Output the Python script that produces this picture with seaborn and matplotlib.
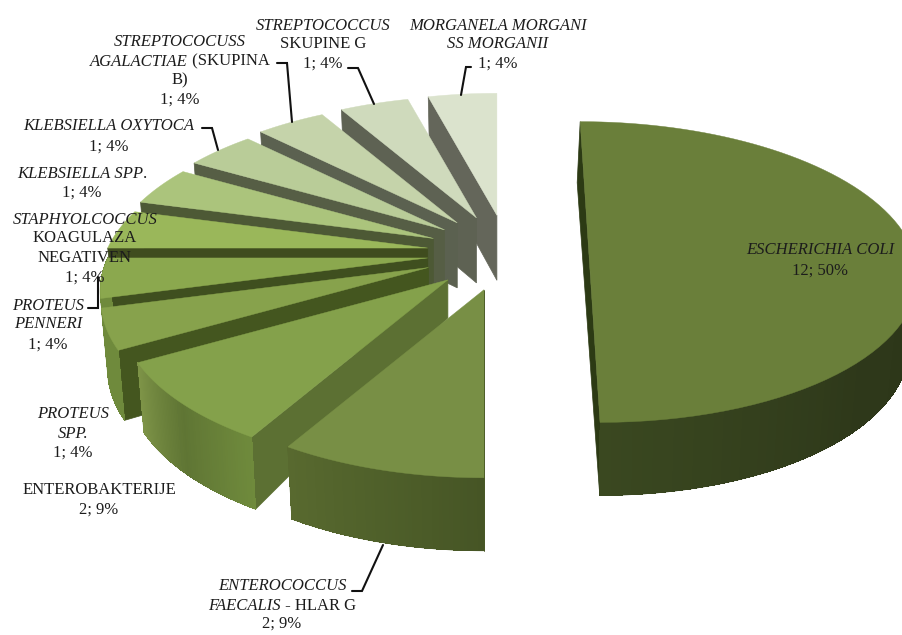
import numpy as np
import matplotlib
matplotlib.use("Agg")
import matplotlib.pyplot as plt
import seaborn as sns

# --- data -------------------------------------------------------------
categories = ["ESCHERICHIA COLI", "ENTEROCOCCUS FAECALIS - HLAR G", "ENTEROBAKTERIJE",
              "PROTEUS SPP.", "PROTEUS PENNERI", "STAPHYLOCOCCUS KOAGULAZA NEGATIVEN",
              "KLEBSIELLA SPP.", "KLEBSIELLA OXYTOCA", "STREPTOCOCUSS AGALACTIAE",
              "STREPTOCOCCUS SKUPINE G", "MORGANELA MORGANII SS MORGANII"]
values = [12, 2, 2, 1, 1, 1, 1, 1, 1, 1, 1]
percents = ["50%", "9%", "9%", "4%", "4%", "4%", "4%", "4%", "4%", "4%", "4%"]

# --- styles -----------------------------------------------------------
top_colors = ["#6a7f3a", "#788f45", "#84a14b", "#87a24c", "#8ba84e", "#9ab75a",
              "#abc47c", "#b9cc98", "#c5d3aa", "#cfdabc", "#dbe3cd"]
edge_colors = ["#2c3a14", "#455424", "#5c7033", "#44561f", "#3f4f1f", "#3f4c1e",
               "#4d5935", "#565e45", "#5b6150", "#5e6253", "#64665a"]
rim_colors = [("#2c3618", "#2e381a", "#3a4820"), ("#58692f", "#4f602a", "#465525"),
              ("#6f8a3c", "#5f7534", "#7d9347"),
              ("#6f8a3c", "#6f8a3c"), ("#6f8a3c", "#6f8a3c"), ("#666", "#666"),
              ("#666", "#666"), ("#666", "#666"), ("#666", "#666"), ("#666", "#666"), ("#666", "#666")]
rim_flip = [False, True, False, False, False, False, False, False, False, False, False]
explode = [0.894, 1, 1, 1, 1, 1, 1, 1, 1, 1, 1]
shift_x = [0, -6, -4, -5, 0, 0, 0, 0, -3, -3, -4]
shift_y = [-13, 0, 0, 0, 0, 0, 0, 0, 0, 0, 0]
scale_y = [0.97, 1, 1, 1, 1, 1, 1, 1, 1, 1, 1]
tilt = [0.066, 0, 0, 0, 0, 0, 0, 0, 0, 0, 0]
tip_depth = [65, 65, 38, 65, 65, 65, 65, 65, 65, 65, 65]
base_scale = [0.975, 0.98, 0.98, 0.98, 0.98, 0.98, 0.98, 0.98, 0.98, 0.98, 0.98]

CX, CY, EX, EY = 512, 253, 85, 38         # pie centre and explosion, in pixels
A, B, K = 320, 148, 0.213                 # perspective of the pie plane

sns.set_theme(style="white")
plt.rcParams["font.family"] = ["Liberation Serif", "DejaVu Serif"]

fig = plt.figure(figsize=(9.03, 6.35), dpi=100)
ax = fig.add_axes([0, 0, 1, 1])
ax.set_xlim(0, 903)
ax.set_ylim(635, 0)
ax.axis("off")


def project(theta, t, tip, yscale, skew):
    u, v = np.sin(theta) * t, np.cos(theta) * t
    w = 1 + K * v
    dy = -B * v / w * yscale
    dx = A * u / w + skew * dy
    return tip[0] + dx, tip[1] + dy


def depth(theta, t, tip_d):
    return tip_d + (67 - 6 * np.cos(theta) - tip_d) * t


def lower(x, y, theta, t, tip, tip_d, s):
    return tip[0] + (x - tip[0]) * s, y + depth(theta, t, tip_d)


angles = np.cumsum([0] + values) / sum(values) * 2 * np.pi
draw_order = [0] + list(range(len(values) - 1, 0, -1))
for i in draw_order:
    a0, a1 = angles[i], angles[i + 1]
    am = (a0 + a1) / 2
    tip = (CX + EX * explode[i] * np.sin(am) + shift_x[i],
           CY - EY * explode[i] * np.cos(am) + shift_y[i])
    args = (tip, scale_y[i], tilt[i])
    d = tip_depth[i]
    s = base_scale[i]

    # wall along the first radial edge
    rx, ry = project(a0, 1, *args)
    bx, by = lower(rx, ry, a0, 1, tip, d, s)
    if i == 0:   # the 50% slice shows the wall of its diameter
        rx2, ry2 = project(a1, 1, *args)
        bx2, by2 = lower(rx2, ry2, a1, 1, tip, d, s)
        ax.fill([rx, rx2, bx2, rx - 3], [ry, ry2, by2, by], color=edge_colors[i], lw=0.5)
    else:
        ax.fill([tip[0], rx, bx, tip[0]], [tip[1], ry, by, tip[1] + d], color=edge_colors[i], lw=0.5)

    # outer wall, only where the rim faces the viewer
    lo, hi = max(a0, np.pi / 2), min(a1, 1.5 * np.pi)
    if hi > lo:
        th = np.linspace(lo, hi, 61)
        stops = list(rim_colors[i])
        cols = sns.blend_palette(stops[::-1] if rim_flip[i] else stops, len(th) - 1)
        xt, yt = project(th, 1, *args)
        xb, yb = lower(xt, yt, th, 1, tip, d, s)
        ax.fill(np.r_[xt, xb[::-1]], np.r_[yt, yb[::-1]], color=cols[len(cols) // 2], lw=0.5)
        for j in range(len(th) - 1):
            ax.fill([xt[j], xt[j + 1], xb[j + 1], xb[j]], [yt[j], yt[j + 1], yb[j + 1], yb[j]],
                    color=cols[j], lw=0, antialiased=False)

    # top face
    th = np.linspace(a0, a1, 80)
    xr, yr = project(th, 1, *args)
    ax.fill(np.r_[tip[0], xr], np.r_[tip[1], yr], color=top_colors[i], lw=0.3)

# --- leader lines -----------------------------------------------------
leaders = [([471, 466, 461], [67, 67, 95]),
           ([348, 358, 374], [68, 68, 104]),
           ([277, 287, 292], [63, 63, 122]),
           ([202, 212, 218], [128, 128, 150]),
           ([98, 98, 88], [277, 308, 308]),
           ([383, 362, 352], [545, 591, 591])]
for lx, ly in leaders:
    ax.plot(lx, ly, color="#111111", lw=1.5, solid_joinstyle="miter", zorder=5)

# --- labels -----------------------------------------------------------
I, R = "italic", "normal"
labels = [
    (820, [249, 269], [[("ESCHERICHIA COLI", I)], [("12; 50%", R)]]),
    (282, [585, 604, 622], [[("ENTEROCOCCUS", I)], [("FAECALIS", I), (" - HLAR G", R)], [("2; 9%", R)]]),
    (99, [488, 508], [[("ENTEROBAKTERIJE", R)], [("2; 9%", R)]]),
    (73, [412, 432, 451], [[("PROTEUS", I)], [("SPP.", I)], [("1; 4%", R)]]),
    (48, [304, 323, 343], [[("PROTEUS", I)], [("PENNERI", I)], [("1; 4%", R)]]),
    (85, [218, 237, 256, 276], [[("STAPHYOLCOCCUS", I)], [("KOAGULAZA", R)], [("NEGATIVEN", R)], [("1; 4%", R)]]),
    (82, [172, 191], [[("KLEBSIELLA SPP", I), (".", R)], [("1; 4%", R)]]),
    (109, [125, 145], [[("KLEBSIELLA OXYTOCA", I)], [("1; 4%", R)]]),
    (180, [40, 60, 79, 98], [[("STREPTOCOCUSS", I)], [("AGALACTIAE", I), (" (SKUPINA", R)], [("B)", R)], [("1; 4%", R)]]),
    (323, [24, 43, 62], [[("STREPTOCOCCUS", I)], [("SKUPINE G", R)], [("1; 4%", R)]]),
    (498, [24, 43, 62], [[("MORGANELA MORGANI", I)], [("SS MORGANII", I)], [("1; 4%", R)]]),
]
FS = 12
renderer = fig.canvas.get_renderer()
for xc, ys, lines in labels:
    for y, parts in zip(ys, lines):
        txts = [ax.text(0, y + 1.5, s.replace(" ", "\u00a0"), style=st, fontsize=FS, color="#1c1c1c",
                        va="center", ha="left", zorder=6) for s, st in parts]
        widths = [t.get_window_extent(renderer).width for t in txts]
        x = xc - sum(widths) / 2
        for t, w in zip(txts, widths):
            t.set_x(x)
            x += w

fig.savefig("out.png", dpi=100)
